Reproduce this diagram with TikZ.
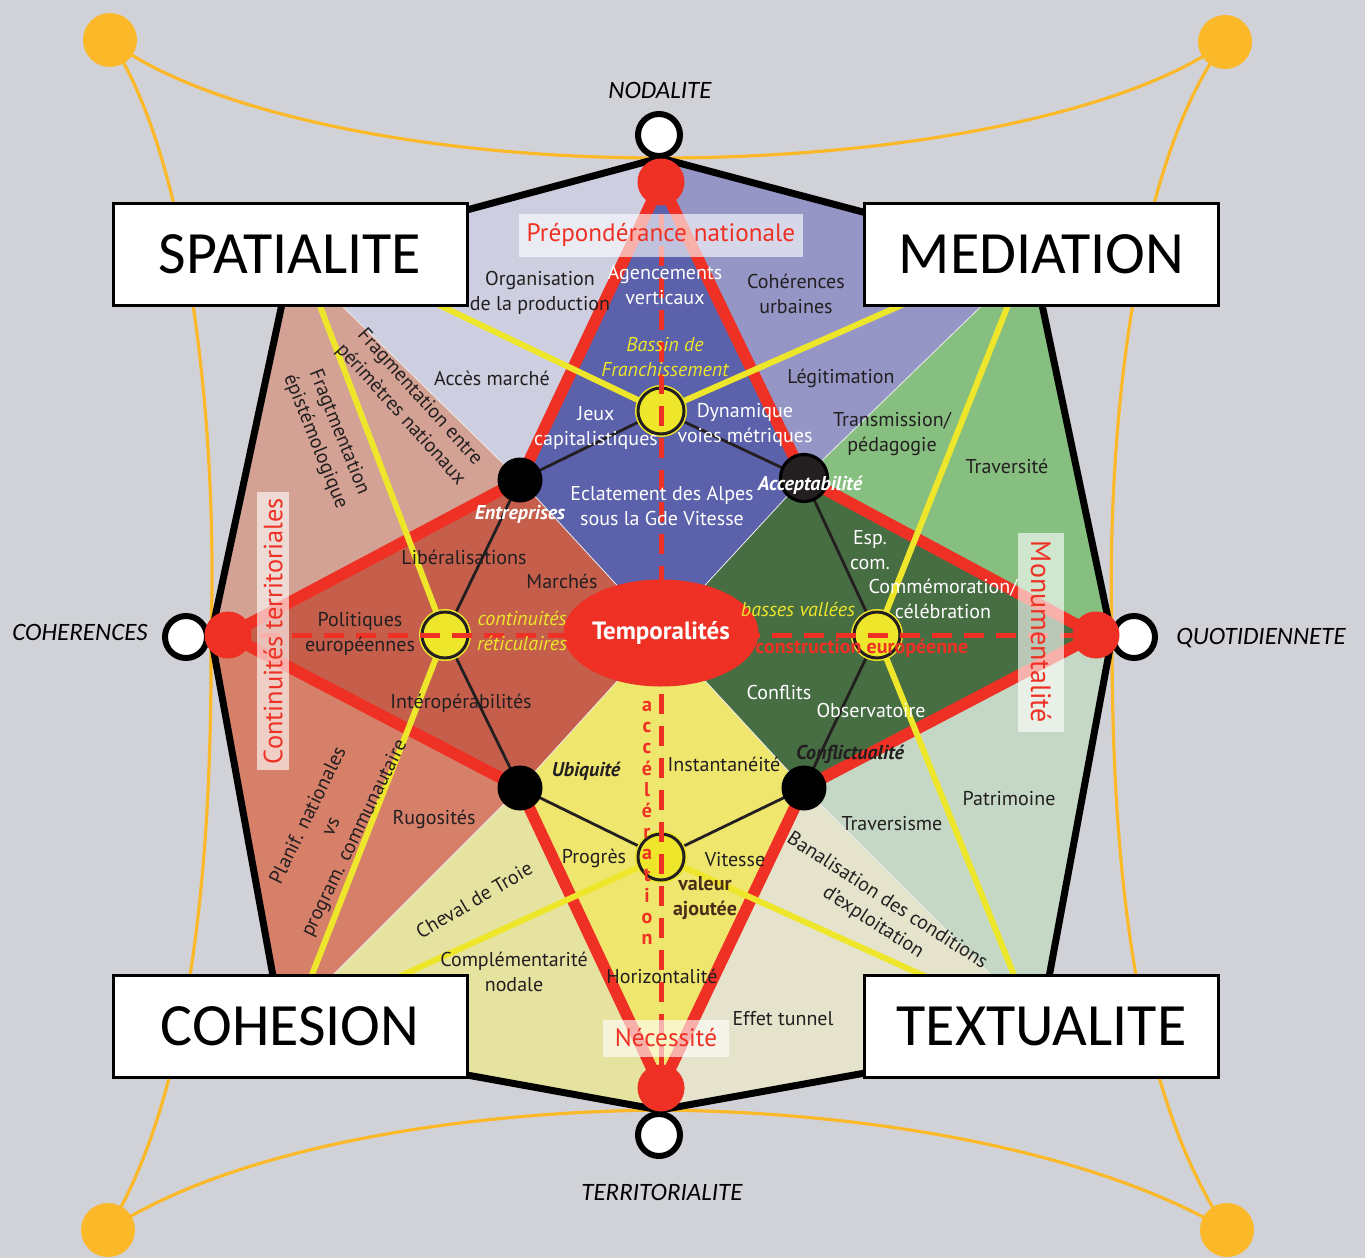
\documentclass[tikz,border=0pt]{standalone}
\usepackage{fontspec}
\setmainfont{PT Sans}
\newfontfamily\boxfont{Carlito}
\usetikzlibrary{shapes.geometric}
\definecolor{bg}{HTML}{D1D2D7}
\definecolor{lavA}{HTML}{CDCEE0}
\definecolor{lavB}{HTML}{9596C6}
\definecolor{blueC}{HTML}{5B61AA}
\definecolor{salmA}{HTML}{D4A294}
\definecolor{brownC}{HTML}{C55F4C}
\definecolor{salmC}{HTML}{D6806A}
\definecolor{paleY}{HTML}{E6E3A0}
\definecolor{yelR}{HTML}{EEE66D}
\definecolor{beige}{HTML}{E5E3CB}
\definecolor{paleG}{HTML}{C5D8C5}
\definecolor{darkG}{HTML}{476D43}
\definecolor{medG}{HTML}{86BF7F}
\definecolor{myred}{HTML}{EE3124}
\definecolor{yel}{HTML}{EDE62A}
\definecolor{orng}{HTML}{FBB92A}
\definecolor{dtext}{HTML}{231F20}
\definecolor{valc}{HTML}{4A2C17}
\begin{document}
\begin{tikzpicture}[x=0.5pt,y=-0.5pt,
  lbl/.style={align=center,inner sep=0pt,text=dtext,font=\fontsize{10}{12.8}\selectfont},
  wl/.style={lbl,text=white},
  yl/.style={lbl,text=yel,font=\itshape\fontsize{10}{12.8}\selectfont},
  bi/.style={lbl,font=\bfseries\itshape\fontsize{10}{12.8}\selectfont},
  redln/.style={draw=myred,line width=5.8pt},
  yelln/.style={draw=yel,line width=3pt},
  blkln/.style={draw=dtext,line width=1.4pt},
  dashln/.style={draw=myred,line width=2.5pt,dash pattern=on 10pt off 6pt},
  orln/.style={draw=orng,line width=1.6pt},
  bigbox/.style={draw=black,line width=1.5pt,fill=white,minimum width=177pt,minimum height=51pt,inner sep=0pt,font=\boxfont\fontsize{30}{30}\selectfont},
  outl/.style={font=\boxfont\itshape\fontsize{12.5}{12.5}\selectfont,inner sep=0pt},
  tbox/.style={fill=white,fill opacity=0.62,text opacity=1,text=myred,inner sep=0pt,font=\fontsize{12.6}{12.6}\selectfont},
  wnode/.style={circle,draw=black,fill=white,line width=3pt,minimum size=21pt,inner sep=0pt},
  rnode/.style={circle,fill=myred,minimum size=23.5pt,inner sep=0pt},
  bnode/.style={circle,fill=black,minimum size=22.5pt,inner sep=0pt},
  ynode/.style={circle,fill=yel,draw=dtext,line width=1.5pt,minimum size=23pt,inner sep=0pt,preaction={draw=yel,line width=3pt}},
  odot/.style={circle,fill=orng,minimum size=27pt,inner sep=0pt}
]
\fill[bg] (0,0) rectangle (1365,1258);
\useasboundingbox (0,0) rectangle (1365,1258);
% coordinates
\coordinate (T) at (660,158);
\coordinate (TL) at (292,257);
\coordinate (L) at (211,636);
\coordinate (BL) at (285,1042);
\coordinate (B) at (660,1110);
\coordinate (BR) at (1037,1042);
\coordinate (R) at (1112,637);
\coordinate (TR) at (1032,257);
\coordinate (pu) at (283,1025);
\coordinate (pq) at (1039,1023);
\coordinate (nt) at (661,182);
\coordinate (nb) at (661,1088);
\coordinate (nl) at (228,635);
\coordinate (nr) at (1096,635);
\coordinate (e) at (520,480);
\coordinate (a) at (804,478);
\coordinate (u) at (520,788);
\coordinate (k) at (804,788);
\coordinate (c) at (661,633);
\coordinate (yt) at (661,411);
\coordinate (yl) at (445,635);
\coordinate (yr) at (877,635);
\coordinate (yb) at (661,857);
\coordinate (wt) at (659,135);
\coordinate (wb) at (659,1135);
\coordinate (wl) at (186,637);
\coordinate (wr) at (1134,637);
\coordinate (tld) at (110,40);
\coordinate (trd) at (1225,42);
\coordinate (bld) at (108,1230);
\coordinate (brd) at (1227,1230);
\coordinate (ytl) at (420,296);
\coordinate (ytr) at (920,297);
\coordinate (ylu) at (312,285);
\coordinate (yld) at (306,990);
\coordinate (yru) at (1016,285);
\coordinate (yrd) at (1020,990);
\coordinate (ybl) at (385,983);
\coordinate (ybr) at (940,983);
% orange curves
\draw[orln] (tld) .. controls (200,110) and (420,158) .. (T) .. controls (905,158) and (1130,112) .. (trd);
\draw[orln] (bld) .. controls (230,1150) and (450,1112) .. (B) .. controls (870,1112) and (1090,1150) .. (brd);
\draw[orln] (tld) .. controls (190,160) and (218,430) .. (L) .. controls (212,820) and (200,1080) .. (bld);
\draw[orln] (trd) .. controls (1135,160) and (1106,430) .. (R) .. controls (1112,820) and (1125,1080) .. (brd);
\node[odot] (dtl) at (tld) {};
\node[odot] (dtr) at (trd) {};
\node[odot] (dbl) at (bld) {};
\node[odot] (dbr) at (brd) {};
% region fills
\fill[lavA] (T) -- (TL) -- (L) -- (BL) -- (B) -- (BR) -- (R) -- (TR) -- cycle;
\fill[lavB] (T) -- (TR) -- (a) -- (c) -- cycle;
\fill[medG] (a) -- (TR) -- (R) -- (nr) -- cycle;
\fill[darkG] (a) -- (nr) -- (k) -- (c) -- cycle;
\fill[paleG] (k) -- (nr) -- (R) -- (pq) -- cycle;
\fill[beige] (k) -- (pq) -- (BR) -- (B) -- (nb) -- cycle;
\fill[yelR] (u) -- (c) -- (k) -- (nb) -- cycle;
\fill[paleY] (u) -- (nb) -- (B) -- (BL) -- (pu) -- cycle;
\fill[salmC] (u) -- (pu) -- (L) -- (nl) -- cycle;
\fill[brownC] (e) -- (nl) -- (u) -- (c) -- cycle;
\fill[salmA] (e) -- (TL) -- (L) -- (nl) -- cycle;
\fill[blueC] (nt) -- (e) -- (c) -- (a) -- cycle;
\draw[white!85!gray,line width=0.4pt] (e) -- (c) -- (a) (u) -- (c) -- (k) (a) -- (TR) (e) -- (TL) (u) -- (pu) (k) -- (pq);
% octagon outline
\draw[black,line width=3.5pt,line join=round] (T) -- (TL) -- (L) -- (BL) -- (B) -- (BR) -- (R) -- (TR) -- cycle;
% thick red lines
\draw[redln] (nt) -- (e);
\draw[redln] (nt) -- (a);
\draw[redln] (e) -- (nl);
\draw[redln] (a) -- (nr);
\draw[redln] (nl) -- (u);
\draw[redln] (nr) -- (k);
\draw[redln] (u) -- (nb);
\draw[redln] (k) -- (nb);
% yellow lines
\draw[yelln] (ytl) -- (yt) -- (ytr);
\draw[yelln] (ylu) -- (yl) -- (yld);
\draw[yelln] (yru) -- (yr) -- (yrd);
\draw[yelln] (ybl) -- (yb) -- (ybr);
% thin black lines
\draw[blkln] (e) -- (yt) -- (a);
\draw[blkln] (e) -- (yl) -- (u);
\draw[blkln] (a) -- (yr) -- (k);
\draw[blkln] (u) -- (yb) -- (k);
% nodes
\node[bnode] (E) at (e) {};
\node[circle,fill=dtext,draw=black,line width=1.6pt,minimum size=23.5pt,inner sep=0pt] (A) at (a) {};
\node[bnode] (U) at (u) {};
\node[bnode] (K) at (k) {};
\node[ynode] (YT) at (yt) {};
\node[ynode] (YL) at (yl) {};
\node[ynode] (YR) at (yr) {};
\node[ynode] (YB) at (yb) {};
% dashed lines
\draw[dashln] (nt) -- (nb);
\draw[dashln] (nl) -- (nr);
% end nodes
\node[wnode] (WT) at (wt) {};
\node[wnode] (WB) at (wb) {};
\node[wnode] (WL) at (wl) {};
\node[wnode] (WR) at (wr) {};
\node[rnode] (NT) at (nt) {};
\node[rnode] (NB) at (nb) {};
\node[rnode] (NL) at (nl) {};
\node[rnode] (NR) at (nr) {};
% central ellipse
\node[ellipse,fill=myred,minimum width=82.5pt,minimum height=53.5pt,inner sep=0pt,text=white,font=\bfseries\fontsize{12.5}{12.5}\selectfont] (temp) at (c) {Temporalités};
% big boxes
\node[bigbox] (spat) at (290,254) {SPATIALITE};
\node[bigbox] (medi) at (1041.5,254) {MEDIATION};
\node[bigbox] (cohe) at (290,1026) {COHESION};
\node[bigbox] (text) at (1041.5,1026) {TEXTUALITE};
% outer labels
\node[outl] (nodal) at (660,90) {NODALITE};
\node[outl] (coher) at (80,632) {COHERENCES};
\node[outl] (quot) at (1261,638) {QUOTIDIENNETE};
\node[outl] (terr) at (662,1192) {TERRITORIALITE};
% translucent label boxes
\node[tbox,minimum width=142pt,minimum height=21.5pt] (prep) at (661,235) {Prépondérance nationale};
\node[tbox,rotate=90,minimum width=139pt,minimum height=16pt,font=\fontsize{13.2}{13.2}\selectfont] (contt) at (273,631) {Continuités territoriales};
\node[tbox,rotate=-90,minimum width=99.5pt,minimum height=23pt,font=\fontsize{14}{14}\selectfont] (monu) at (1041,632) {Monumentalité};
\node[tbox,minimum width=63pt,minimum height=18.5pt] (nece) at (666,1038) {Nécessité};
% labels
\node[lbl] (org) at (540,293) {Organisation\\de la production};
\node[wl] (agen) at (665,285) {Agencements\\verticaux};
\node[lbl] (cohu) at (796,294) {Cohérences\\urbaines};
\node[lbl] (acces) at (492,378) {Accès marché};
\node[yl] (bassin) at (665,357) {Bassin de\\Franchissement};
\node[lbl] (legit) at (841,378) {Légitimation};
\node[wl] (jeux) at (596,428) {Jeux\\capitalistiques};
\node[wl] (dyn) at (745,425) {Dynamique\\voies métriques};
\node[lbl] (trans) at (892,434) {Transmission/\\pédagogie};
\node[lbl] (travt) at (1007,466) {Traversité};
\node[wl] (eclat) at (662,506) {Eclatement des Alpes\\sous la Gde Vitesse};
\node[bi,text=white] (entr) at (520,514) {Entreprises};
\node[bi,text=white] (accept) at (810,485) {Acceptabilité};
\node[lbl,rotate=-48] (frag1) at (410,406) {Fragmentation entre\\périmètres nationaux};
\node[lbl,rotate=-68] (frag2) at (327,437) {Fragtmentation\\épistémologique};
\node[lbl] (liber) at (464,557) {Libéralisations};
\node[lbl] (march) at (562,581) {Marchés};
\node[lbl] (polit) at (360,634) {Politiques\\européennes};
\node[yl] (contr) at (522,631) {continuités\\réticulaires};
\node[yl] (basses) at (798,609) {basses vallées};
\node[wl] (esp) at (870,550) {Esp.\\com.};
\node[wl] (comm) at (943,599) {Commémoration/\\célébration};
\node[lbl,text=myred,font=\bfseries\fontsize{10}{12.8}\selectfont] (constr) at (862,648) {construction européenne};
\node[lbl] (intero) at (461,703) {Intéropérabilités};
\node[wl] (confl) at (779,692) {Conflits};
\node[wl] (obs) at (871,710) {Observatoire};
\node[bi] (conflic) at (850,754) {Conflictualité};
\node[bi] (ubiq) at (586,771) {Ubiquité};
\node[lbl] (inst) at (724,764) {Instantanéité};
\node[align=center,inner sep=0pt,text=myred,font=\bfseries\fontsize{10}{10.6}\selectfont] (accel) at (647,823) {a\\c\\c\\é\\l\\é\\r\\a\\t\\i\\o\\n};
\node[lbl,rotate=64] (planif) at (332,827) {Planif. nationales\\vs\\program. communautaire};
\node[lbl] (rugo) at (434,819) {Rugosités};
\node[lbl] (prog) at (594,858) {Progrès};
\node[lbl] (vit) at (735,860) {Vitesse};
\node[lbl,text=valc,font=\bfseries\fontsize{10}{12.8}\selectfont] (val) at (705,898) {valeur\\ajoutée};
\node[lbl] (patri) at (1009,799) {Patrimoine};
\node[lbl] (travm) at (892,824) {Traversisme};
\node[lbl,rotate=-33] (banal) at (880,912) {Banalisation des conditions\\d'exploitation};
\node[lbl,rotate=30.5] (cheval) at (474,900) {Cheval de Troie};
\node[lbl] (compl) at (514,972) {Complémentarité\\nodale};
\node[lbl] (horiz) at (662,976) {Horizontalité};
\node[lbl] (effet) at (783,1019) {Effet tunnel};
\end{tikzpicture}
\end{document}
